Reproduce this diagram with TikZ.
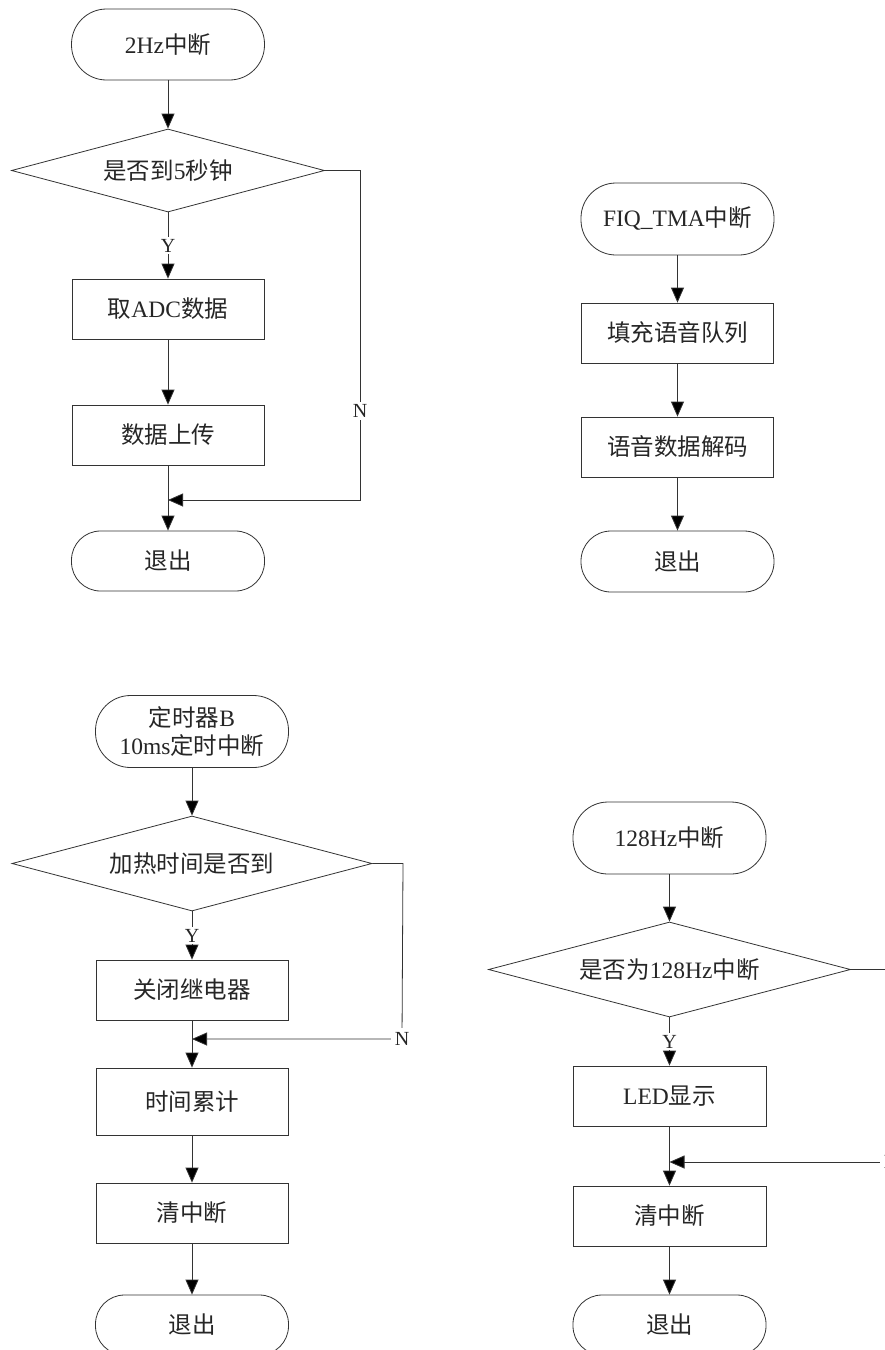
\documentclass[tikz,border=0pt]{standalone}
\usepackage{fontspec}
\setmainfont{Liberation Serif}
\newfontfamily\cjk{Noto Sans CJK SC}
\usetikzlibrary{shapes.geometric,arrows.meta}
\begin{document}
\begin{tikzpicture}[x=1pt,y=-1pt,
  every node/.style={text=black!85},
  txt/.style={font=\fontsize{23.5}{28}\selectfont},
  term/.style={txt,draw=black!80,line width=0.8pt,rectangle,inner sep=0pt,minimum width=193pt},
  termA/.style={term,minimum height=72pt,rounded corners=35pt},
  termB/.style={term,minimum height=60pt,rounded corners=29pt},
  stepbox/.style={txt,draw=black!80,line width=0.8pt,rectangle,inner sep=0pt,minimum width=192pt,minimum height=60pt},
  dia/.style={draw=black!80,line width=0.8pt,diamond,inner sep=0pt},
  lab/.style={font=\fontsize{20}{24}\selectfont,fill=white,inner sep=2pt},
  line/.style={draw=black!80,line width=0.8pt},
  arr/.style={line,-{Triangle[length=15pt,width=13pt,fill=black]}}
]
\useasboundingbox (0,0) rectangle (885,1350);
\clip (0,0) rectangle (885,1350);
\fill[white] (0,0) rectangle (885,1350);

% ---------- chart 1 ----------
\node[termA,minimum height=71pt] (s1) at (168,44.5) {2Hz{\cjk 中断}};
\node[dia,minimum width=313pt,minimum height=83pt] (d1) at (168,170.5) {};
\node[txt] (t1) at (d1.center) {{\cjk 是否到}5{\cjk 秒钟}};
\node[stepbox] (b11) at (168,309) {{\cjk 取}ADC{\cjk 数据}};
\node[stepbox] (b12) at (168,435) {{\cjk 数据上传}};
\node[termB] (e1) at (168,561) {{\cjk 退出}};
\coordinate (c1a) at (360,170.5);
\coordinate (c1b) at (360,500);
\coordinate (j1) at (168,500);
\draw[arr] (s1) -- (d1);
\draw[arr] (d1) -- node[lab] {Y} (b11);
\draw[arr] (b11) -- (b12);
\draw[arr] (b12) -- (e1);
\draw[arr] (d1.east) -- (c1a) -- node[lab,pos=0.73] {N} (c1b) -- (j1);

% ---------- chart 2 ----------
\node[termA] (s2) at (677.5,219) {FIQ\_TMA{\cjk 中断}};
\node[stepbox] (b21) at (677.5,333) {{\cjk 填充语音队列}};
\node[stepbox] (b22) at (677.5,447) {{\cjk 语音数据解码}};
\node[termB,minimum height=61pt,rounded corners=30pt] (e2) at (677.5,561.5) {{\cjk 退出}};
\draw[arr] (s2) -- (b21);
\draw[arr] (b21) -- (b22);
\draw[arr] (b22) -- (e2);

% ---------- chart 3 ----------
\node[termA,align=center] (s3) at (192,731.5) {{\cjk 定时器}B\\10ms{\cjk 定时中断}};
\node[dia,minimum width=360pt,minimum height=95pt] (d3) at (192,863.5) {};
\node[txt] (t3) at (d3.center) {{\cjk 加热时间是否到}};
\node[stepbox] (b31) at (192,990) {{\cjk 关闭继电器}};
\node[stepbox,minimum height=67pt] (b32) at (192,1101.5) {{\cjk 时间累计}};
\node[stepbox] (b33) at (192,1213) {{\cjk 清中断}};
\node[termB] (e3) at (192,1325) {{\cjk 退出}};
\coordinate (c3a) at (403,863.5);
\coordinate (c3b) at (402,1039);
\coordinate (j3) at (192,1039);
\draw[arr] (s3) -- (d3);
\draw[arr] (d3) -- node[lab] {Y} (b31);
\draw[arr] (b31) -- (b32);
\draw[arr] (b32) -- (b33);
\draw[arr] (b33) -- (e3);
\draw[arr] (d3.east) -- (c3a) -- (c3b) node[lab,inner sep=4pt] {N} -- (j3);

% ---------- chart 4 ----------
\node[termA] (s4) at (669.5,838) {128Hz{\cjk 中断}};
\node[dia,minimum width=362pt,minimum height=95pt] (d4) at (669.5,969.5) {};
\node[txt] (t4) at (d4.center) {{\cjk 是否为}128Hz{\cjk 中断}};
\node[stepbox,minimum width=193pt] (b41) at (669.5,1096) {LED{\cjk 显示}};
\node[stepbox,minimum width=193pt] (b42) at (669.5,1216) {{\cjk 清中断}};
\node[termB] (e4) at (669.5,1325) {{\cjk 退出}};
\coordinate (c4a) at (891,969.5);
\coordinate (c4b) at (891,1162);
\coordinate (j4) at (669.5,1162);
\draw[arr] (s4) -- (d4);
\draw[arr] (d4) -- node[lab] {Y} (b41);
\draw[arr] (b41) -- (b42);
\draw[arr] (b42) -- (e4);
\draw[arr] (d4.east) -- (c4a) -- (c4b) node[lab,inner sep=4pt] {N} -- (j4);
\end{tikzpicture}
\end{document}
